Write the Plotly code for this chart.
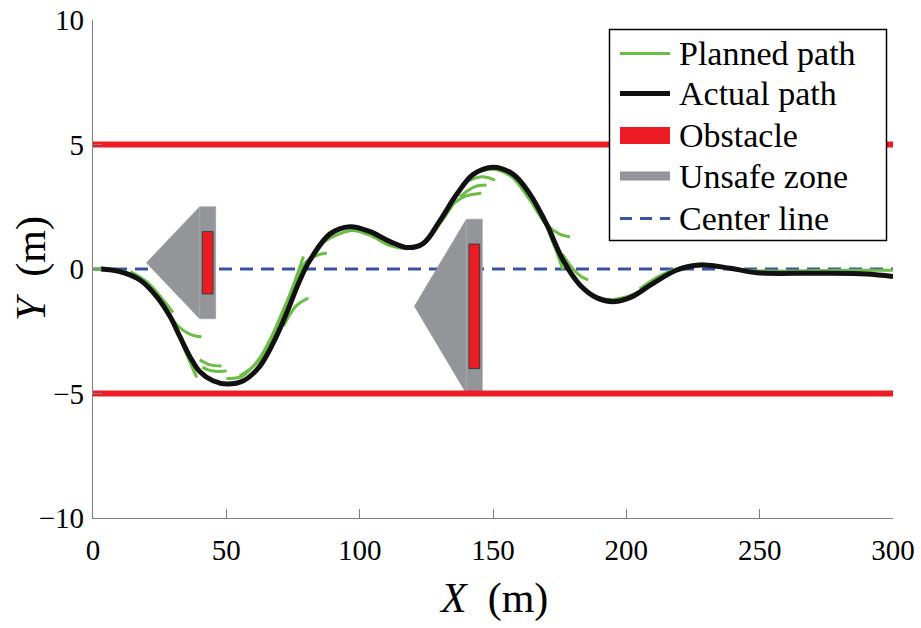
import plotly.graph_objects as go

# ---------------- data ----------------
x_tick_vals = [0, 50, 100, 150, 200, 250, 300]
y_tick_vals = [-10, -5, 0, 5, 10]
y_tick_text = ["\u221210", "\u22125", "0", "5", "10"]

road_x = [0, 300]
road_edges = [5, -5]
center_y = [0, 0]

# obstacles: x0, x1, y0, y1
obs_x0 = [41, 141]
obs_x1 = [45, 145]
obs_y0 = [-1, -4]
obs_y1 = [1.5, 1]

# unsafe zones: box around each obstacle plus a wedge on the approach side
zone_x0 = [40, 140]
zone_x1 = [46, 146]
zone_y0 = [-2, -5]
zone_y1 = [2.5, 2]
zone_tip_x = [20, 120.5]
zone_tip_y = [0.25, -1.5]

# actual driven path
actual_x = [3, 10, 17.6, 23.9, 28.9, 32.6, 36.4, 40.1, 45, 50.1, 56.4, 62.6, 67.6,
            72.6, 77.6, 81.4, 88.9, 96.4, 103.9, 111.4, 118.2, 123.9, 130.1, 136.4,
            142.6, 150.1, 157.6, 163.9, 170.1, 176.4, 182.6, 189, 195.5, 202, 209,
            219, 228, 239, 249, 271, 290, 300]
actual_y = [0, -0.1, -0.44, -1.11, -1.91, -2.72, -3.53, -4.13, -4.49, -4.62, -4.49,
            -3.9, -2.97, -1.77, -0.44, 0.36, 1.41, 1.7, 1.5, 1.1, 0.86, 1.03, 1.94,
            3.0, 3.8, 4.09, 3.8, 3.0, 1.8, 0.33, -0.64, -1.16, -1.31, -1.12, -0.65,
            -0.04, 0.16, 0.03, -0.15, -0.17, -0.2, -0.3]

# planned path segments (one per planning step)
planned_x = [
    [0, 3, 10, 17],
    [14, 20, 26, 30],
    [28.9, 32, 35.1, 38, 40.7],
    [32, 35, 38.9],
    [40, 44, 48.2],
    [41, 45, 50.1],
    [50, 56, 62, 67, 72, 77],
    [55, 63, 70, 75, 78.9],
    [71.4, 76, 80.7],
    [76, 80, 84, 87.7],
    [84, 90, 97, 104, 111, 118],
    [118, 124, 130, 136],
    [133.9, 139, 145.6],
    [137.6, 143, 147.6],
    [141, 146, 150.75],
    [146, 151, 157, 163, 170],
    [165.1, 170, 175, 178.9],
    [168.9, 172, 174.5, 176.2],
    [176, 180, 183, 185.7],
    [182, 188, 195, 203, 210],
    [205, 212, 220, 228, 236],
    [230, 245, 260, 280, 300],
]
planned_y = [
    [0, 0, -0.05, -0.35],
    [-0.1, -0.5, -1.2, -1.75],
    [-1.9, -2.3, -2.55, -2.68, -2.72],
    [-2.6, -3.4, -4.35],
    [-3.65, -3.85, -3.9],
    [-3.95, -4.1, -4.1],
    [-4.4, -4.3, -3.65, -2.7, -1.5, -0.2],
    [-4.3, -3.6, -2.0, -0.7, 0.5],
    [-2.3, -1.5, -1.17],
    [-0.4, 0.3, 0.55, 0.64],
    [0.9, 1.3, 1.55, 1.35, 0.95, 0.8],
    [0.85, 1.0, 1.8, 2.75],
    [2.5, 2.9, 3.04],
    [2.9, 3.3, 3.37],
    [3.55, 3.7, 3.57],
    [3.95, 4.0, 3.7, 2.9, 1.75],
    [2.57, 1.8, 1.4, 1.29],
    [2.17, 1.2, 0.5, -0.04],
    [0.6, 0.0, -0.3, -0.44],
    [-0.6, -1.1, -1.22, -1.0, -0.55],
    [-0.8, -0.3, 0.05, 0.2, 0.1],
    [0.15, -0.05, -0.08, -0.05, -0.05],
]

legend_labels = ["Planned path", "Actual path", "Obstacle", "Unsafe zone", "Center line"]

# ---------------- styles ----------------
GREEN = "#6bbd45"
RED = "#ed1c24"
GRAY = "#939598"
BLUE = "#3953a4"
FONT = "Liberation Serif"

fig = go.Figure()

# center line
fig.add_trace(go.Scatter(x=road_x, y=center_y, mode="lines",
                         line=dict(color=BLUE, width=3, dash="13px,8px"),
                         hoverinfo="skip", showlegend=False))

# unsafe zones
for i in range(len(zone_x0)):
    zx = [zone_tip_x[i], zone_x0[i], zone_x1[i], zone_x1[i], zone_x0[i], zone_tip_x[i]]
    zy = [zone_tip_y[i], zone_y1[i], zone_y1[i], zone_y0[i], zone_y0[i], zone_tip_y[i]]
    fig.add_trace(go.Scatter(x=zx, y=zy, mode="lines", fill="toself",
                             fillcolor=GRAY, line=dict(color=GRAY, width=0.5),
                             hoverinfo="skip", showlegend=False))
    # seam between wedge and box
    fig.add_trace(go.Scatter(x=[zone_x0[i], zone_x0[i]], y=[zone_y0[i], zone_y1[i]],
                             mode="lines", line=dict(color="#a7a9ac", width=1),
                             hoverinfo="skip", showlegend=False))

# obstacles
for i in range(len(obs_x0)):
    ox = [obs_x0[i], obs_x1[i], obs_x1[i], obs_x0[i], obs_x0[i]]
    oy = [obs_y0[i], obs_y0[i], obs_y1[i], obs_y1[i], obs_y0[i]]
    fig.add_trace(go.Scatter(x=ox, y=oy, mode="lines", fill="toself",
                             fillcolor=RED, line=dict(color="#3a3a3a", width=1),
                             hoverinfo="skip", showlegend=False))

# road edges
for yb in road_edges:
    fig.add_trace(go.Scatter(x=road_x, y=[yb, yb], mode="lines",
                             line=dict(color=RED, width=6),
                             hoverinfo="skip", showlegend=False))

# planned path segments
px_all, py_all = [], []
for sx, sy in zip(planned_x, planned_y):
    px_all += sx + [None]
    py_all += sy + [None]
fig.add_trace(go.Scatter(x=px_all, y=py_all, mode="lines",
                         line=dict(color=GREEN, width=3, shape="spline", smoothing=1),
                         connectgaps=False, hoverinfo="skip", showlegend=False))

# actual path
fig.add_trace(go.Scatter(x=actual_x, y=actual_y, mode="lines",
                         line=dict(color="#111111", width=5, shape="spline", smoothing=1),
                         hoverinfo="skip", showlegend=False))

# ---------------- layout ----------------
L, R, T, B = 93, 893, 20, 518


def pxx(p):
    return (p - L) / (R - L)


def pyy(p):
    return (B - p) / (B - T)


shapes = []
annotations = []

# legend box
shapes.append(dict(type="rect", xref="paper", yref="paper", layer="above",
                   x0=pxx(609.5), x1=pxx(886.5), y0=pyy(240.5), y1=pyy(29.5),
                   line=dict(color="black", width=1.5), fillcolor="white"))
rows = [53.5, 93.5, 135.5, 176, 218.5]
sx0, sx1 = pxx(620), pxx(670)
shapes.append(dict(type="line", xref="paper", yref="paper", layer="above",
                   x0=sx0, x1=sx1, y0=pyy(rows[0]), y1=pyy(rows[0]),
                   line=dict(color=GREEN, width=3)))
shapes.append(dict(type="line", xref="paper", yref="paper", layer="above",
                   x0=sx0, x1=sx1, y0=pyy(rows[1]), y1=pyy(rows[1]),
                   line=dict(color="#111111", width=5)))
shapes.append(dict(type="rect", xref="paper", yref="paper", layer="above",
                   x0=sx0, x1=sx1, y0=pyy(rows[2] + 8.5), y1=pyy(rows[2] - 8.5),
                   line=dict(width=0), fillcolor=RED))
shapes.append(dict(type="rect", xref="paper", yref="paper", layer="above",
                   x0=sx0, x1=sx1, y0=pyy(rows[3] + 4.5), y1=pyy(rows[3] - 4.5),
                   line=dict(width=0), fillcolor=GRAY))
shapes.append(dict(type="line", xref="paper", yref="paper", layer="above",
                   x0=sx0, x1=sx1, y0=pyy(rows[4]), y1=pyy(rows[4]),
                   line=dict(color=BLUE, width=3, dash="12px,8px")))
for lab, r in zip(legend_labels, rows):
    annotations.append(dict(text=lab, xref="paper", yref="paper",
                            x=pxx(677), y=pyy(r), xanchor="left", yanchor="middle",
                            showarrow=False, font=dict(family=FONT, size=34, color="black")))

# axis titles
annotations.append(dict(text="<i>X</i>\u2002(m)", xref="paper", yref="paper",
                        x=0.5, y=pyy(598), xanchor="center", yanchor="middle",
                        showarrow=False, font=dict(family=FONT, size=42, color="black")))
annotations.append(dict(text="<i>Y</i>\u2002(m)", xref="paper", yref="paper",
                        x=pxx(31), y=0.5, xanchor="center", yanchor="middle",
                        textangle=-90, showarrow=False,
                        font=dict(family=FONT, size=42, color="black")))

axis_common = dict(showgrid=False, zeroline=False, showline=True, automargin=False,
                   linecolor="#808080", linewidth=1.3, ticks="inside", ticklen=9,
                   tickcolor="#808080", tickwidth=1.2,
                   tickfont=dict(family=FONT, size=29, color="black"))

fig.update_layout(
    width=921, height=628,
    margin=dict(l=L, r=921 - R, t=T, b=628 - B),
    paper_bgcolor="white", plot_bgcolor="white",
    showlegend=False,
    xaxis=dict(range=[0, 300], tickvals=x_tick_vals, ticklabelstandoff=6, **axis_common),
    yaxis=dict(range=[-10, 10], tickvals=y_tick_vals, ticktext=y_tick_text,
               ticklabelstandoff=2, **axis_common),
    shapes=shapes,
    annotations=annotations,
)

fig.write_html("out.html")
